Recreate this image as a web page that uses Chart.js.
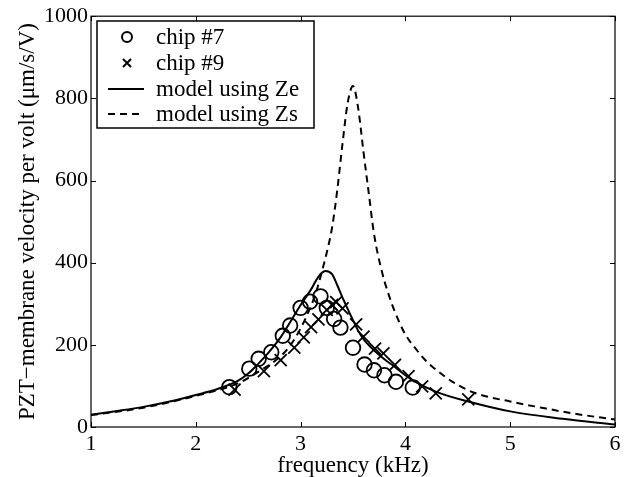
<!DOCTYPE html>
<html>
<head>
<meta charset="utf-8">
<script src="https://cdn.jsdelivr.net/npm/chart.js@4/dist/chart.umd.min.js"></script>
<style>
  html, body { margin: 0; padding: 0; background: #fff; }
  canvas { display: block; }
</style>
</head>
<body>
<canvas id="c" width="629" height="477"></canvas>
<script>
// ---- data ----
const chip7Freq = [2.32, 2.51, 2.60, 2.72, 2.83, 2.90, 3.00, 3.09, 3.19, 3.25, 3.32, 3.38, 3.50, 3.61, 3.70, 3.80, 3.91, 4.07];
const chip7Vel  = [97, 142, 166, 182, 222, 247, 290, 305, 318, 290, 263, 242, 193, 152, 138, 126, 110, 96];

const chip9Freq = [2.37, 2.65, 2.81, 2.94, 3.03, 3.10, 3.17, 3.25, 3.30, 3.34, 3.40, 3.53, 3.60, 3.71, 3.79, 3.90, 4.03, 4.16, 4.29, 4.60];
const chip9Vel  = [91, 136, 163, 193, 218, 243, 262, 285, 297, 304, 289, 250, 220, 191, 179, 151, 124, 99, 82, 67];

const zeFreq = [1.0, 1.25, 1.5, 1.75, 2.0, 2.2, 2.4, 2.5, 2.6, 2.7, 2.8, 2.9, 3.0, 3.1, 3.15, 3.2, 3.24, 3.3, 3.35, 3.4, 3.5, 3.55, 3.6, 3.7, 3.8, 3.9, 4.0, 4.1, 4.3, 4.6, 5.0, 5.5, 6.0];
const zeVel  = [30, 39, 49, 62, 78, 92, 112, 130, 155, 183, 215, 255, 297, 335, 358, 375, 380, 372, 345, 315, 260, 234, 214, 187, 165, 146, 126, 109, 85, 62, 38, 20, 6];

const zsFreq = [1.0, 1.5, 2.0, 2.4, 2.6, 2.8, 2.9, 3.0, 3.1, 3.15, 3.2, 3.25, 3.3, 3.35, 3.4, 3.45, 3.5, 3.55, 3.6, 3.65, 3.7, 3.78, 3.85, 3.9, 4.0, 4.1, 4.2, 4.3, 4.45, 4.65, 5.0, 5.3, 5.6, 6.0];
const zsVel  = [29, 47, 76, 106, 135, 170, 198, 240, 295, 330, 375, 425, 485, 577, 690, 790, 830, 775, 670, 570, 471, 374, 315, 280, 225, 190, 160, 138, 110, 84, 62, 47, 33, 18];

const xTicks = [1, 2, 3, 4, 5, 6];
const yTicks = [0, 200, 400, 600, 800, 1000];

const seriesLabels = ['chip #7', 'chip #9', 'model using Ze', 'model using Zs'];
const xTitle = 'frequency (kHz)';
const yTitle = 'PZT\u2212membrane velocity per volt (\u03bcm/s/V)';

// ---- helpers ----
const pts = (xs, ys) => xs.map((x, i) => ({ x: x, y: ys[i] }));
const FONT = '"Liberation Serif", "Times New Roman", serif';

const frameTicks = {
  id: 'frameTicks',
  afterDraw(chart) {
    const { ctx, chartArea: a, scales } = chart;
    ctx.save();
    ctx.strokeStyle = '#000';
    ctx.lineWidth = 1.2;
    ctx.strokeRect(a.left, a.top, a.right - a.left, a.bottom - a.top);
    const L = 5;
    ctx.lineWidth = 1;
    ctx.beginPath();
    xTicks.forEach(v => {
      const px = Math.round(scales.x.getPixelForValue(v)) + 0.5;
      ctx.moveTo(px, a.bottom); ctx.lineTo(px, a.bottom - L);
      ctx.moveTo(px, a.top); ctx.lineTo(px, a.top + L);
    });
    yTicks.forEach(v => {
      const py = Math.round(scales.y.getPixelForValue(v)) + 0.5;
      ctx.moveTo(a.left, py); ctx.lineTo(a.left + L, py);
      ctx.moveTo(a.right, py); ctx.lineTo(a.right - L, py);
    });
    ctx.stroke();
    ctx.restore();
  }
};

const boxLegend = {
  id: 'boxLegend',
  afterDraw(chart) {
    const { ctx } = chart;
    const x0 = 97, y0 = 21, w = 217, h = 107;
    ctx.save();
    ctx.fillStyle = '#fff';
    ctx.fillRect(x0, y0, w, h);
    ctx.strokeStyle = '#000';
    ctx.lineWidth = 1.5;
    ctx.strokeRect(x0, y0, w, h);
    ctx.font = '23px ' + FONT;
    ctx.fillStyle = '#000';
    ctx.textBaseline = 'middle';
    ctx.textAlign = 'left';
    const rowY = [37, 63, 89, 114];
    chart.data.datasets.forEach((ds, i) => {
      const y = rowY[i];
      ctx.strokeStyle = '#000';
      ctx.lineWidth = 2;
      if (i === 0) {
        ctx.beginPath(); ctx.arc(127, y, 5, 0, Math.PI * 2); ctx.stroke();
      } else if (i === 1) {
        ctx.beginPath();
        ctx.moveTo(123, y - 4); ctx.lineTo(131, y + 4);
        ctx.moveTo(131, y - 4); ctx.lineTo(123, y + 4);
        ctx.stroke();
      } else {
        ctx.setLineDash(ds.borderDash || []);
        ctx.beginPath(); ctx.moveTo(108, y); ctx.lineTo(144, y); ctx.stroke();
        ctx.setLineDash([]);
      }
      ctx.fillText(ds.label, 156, y + 1);
    });
    ctx.restore();
  }
};

new Chart(document.getElementById('c'), {
  type: 'scatter',
  data: {
    datasets: [
      { label: seriesLabels[0], data: pts(chip7Freq, chip7Vel), showLine: false,
        pointStyle: 'circle', pointRadius: 7.3, borderColor: '#000', backgroundColor: 'rgba(0,0,0,0)', borderWidth: 1.8 },
      { label: seriesLabels[1], data: pts(chip9Freq, chip9Vel), showLine: false,
        pointStyle: 'crossRot', pointRadius: 8.5, borderColor: '#000', backgroundColor: '#000', borderWidth: 1.8 },
      { label: seriesLabels[2], data: pts(zeFreq, zeVel), showLine: true, pointRadius: 0,
        borderColor: '#000', borderWidth: 2, cubicInterpolationMode: 'monotone' },
      { label: seriesLabels[3], data: pts(zsFreq, zsVel), showLine: true, pointRadius: 0,
        borderColor: '#000', borderWidth: 2, borderDash: [7, 5], cubicInterpolationMode: 'monotone' }
    ]
  },
  options: {
    responsive: false,
    animation: false,
    devicePixelRatio: 1,
    layout: { padding: { left: 0, right: 14, top: 16, bottom: 0 } },
    plugins: { legend: { display: false }, tooltip: { enabled: false } },
    scales: {
      x: {
        type: 'linear', min: 1, max: 6,
        afterBuildTicks: s => { s.ticks = xTicks.map(v => ({ value: v })); },
        afterFit: s => { s.height = 50; },
        grid: { display: false, drawTicks: false },
        border: { display: false },
        ticks: { color: '#000', font: { family: FONT, size: 22 }, padding: 4, maxRotation: 0,
                 callback: v => String(v) },
        title: { display: true, text: xTitle, color: '#000', font: { family: FONT, size: 23, lineHeight: 1 }, padding: { top: 0, bottom: 0 } }
      },
      y: {
        type: 'linear', min: 0, max: 1000,
        afterBuildTicks: s => { s.ticks = yTicks.map(v => ({ value: v })); },
        afterFit: s => { s.width = 91; },
        grid: { display: false, drawTicks: false },
        border: { display: false },
        ticks: { color: '#000', font: { family: FONT, size: 22 }, padding: 3,
                 callback: v => String(v) },
        title: { display: true, text: yTitle, color: '#000', font: { family: FONT, size: 23 }, padding: { top: 14, bottom: 0 } }
      }
    }
  },
  plugins: [frameTicks, boxLegend]
});
</script>
</body>
</html>
